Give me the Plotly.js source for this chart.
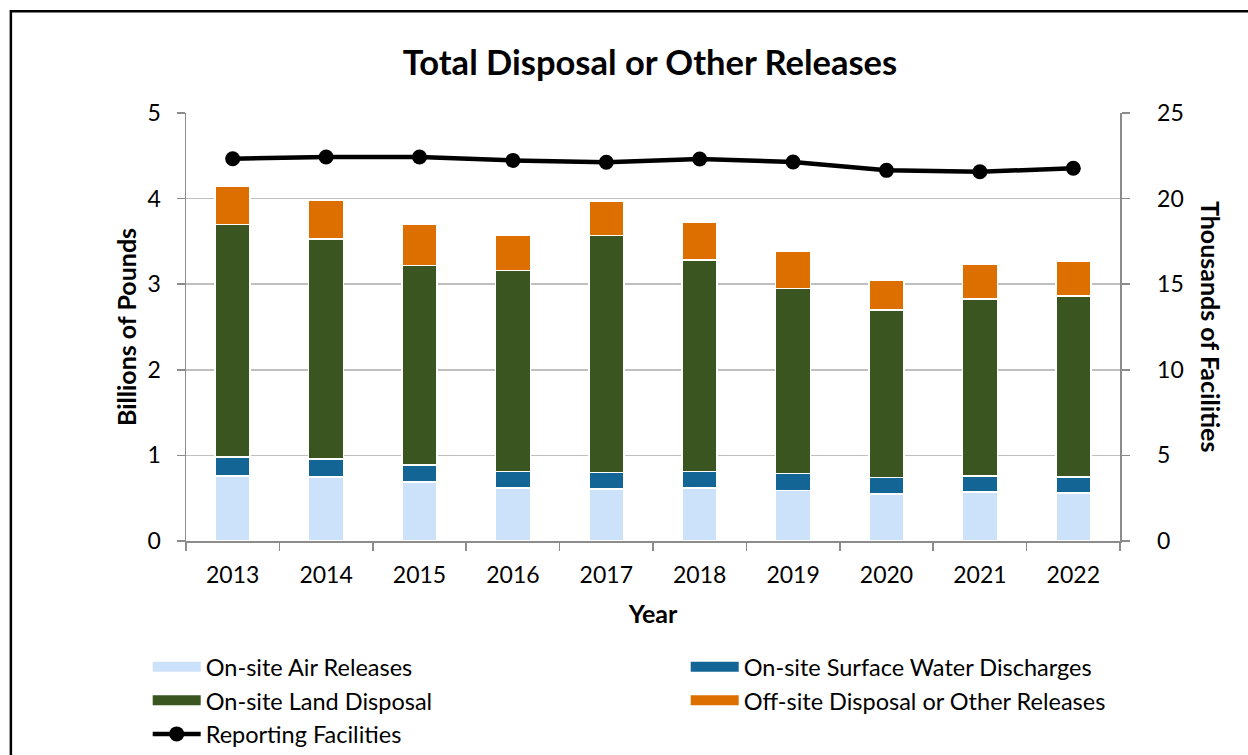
<!DOCTYPE html>
<html>
<head>
<meta charset="utf-8">
<script src="https://cdn.plot.ly/plotly-3.0.1.min.js"></script>
<style>
  html, body { margin: 0; padding: 0; background: #fff; }
  #chart { width: 1248px; height: 755px; }
</style>
</head>
<body>
<div id="chart"></div>
<script>
const years = ["2013","2014","2015","2016","2017","2018","2019","2020","2021","2022"];
const airReleases   = [0.76, 0.75, 0.69, 0.62, 0.61, 0.62, 0.59, 0.55, 0.57, 0.56];
const waterDischarges = [0.22, 0.21, 0.20, 0.19, 0.19, 0.19, 0.20, 0.19, 0.19, 0.19];
const landDisposal  = [2.72, 2.57, 2.33, 2.35, 2.77, 2.47, 2.16, 1.96, 2.07, 2.11];
const offsiteDisposal = [0.44, 0.45, 0.48, 0.41, 0.40, 0.44, 0.43, 0.35, 0.40, 0.41];
const reportingFacilities = [22.33, 22.43, 22.43, 22.23, 22.12, 22.31, 22.14, 21.65, 21.57, 21.77];

const FONT = "Lato, 'Open Sans', sans-serif";
const barColors = {
  air: "#cce2fa",
  water: "#136595",
  land: "#3a5520",
  off: "#dd6f00"
};

function barTrace(name, vals, color) {
  return {
    type: "bar", name: name, x: years, y: vals,
    width: 0.375,
    marker: { color: color, line: { color: "#ffffff", width: 1.5 } },
    legendgroup: name, showlegend: false,
    hoverinfo: "x+y+name"
  };
}
function legendProxy(name, color) {
  return {
    type: "scatter", mode: "lines", name: name, x: [null], y: [null],
    line: { color: color, width: 10 }, legendgroup: name, showlegend: true,
    hoverinfo: "skip"
  };
}

const data = [
  barTrace("On-site Air Releases", airReleases, barColors.air),
  barTrace("On-site Surface Water Discharges", waterDischarges, barColors.water),
  barTrace("On-site Land Disposal", landDisposal, barColors.land),
  barTrace("Off-site Disposal or Other Releases", offsiteDisposal, barColors.off),
  legendProxy("On-site Air Releases", barColors.air),
  legendProxy("On-site Surface Water Discharges", barColors.water),
  legendProxy("On-site Land Disposal", barColors.land),
  legendProxy("Off-site Disposal or Other Releases", barColors.off),
  {
    type: "scatter", mode: "lines+markers", name: "Reporting Facilities",
    x: years, y: reportingFacilities, yaxis: "y2",
    line: { color: "#000000", width: 4.5 },
    marker: { color: "#000000", size: 15 },
    showlegend: true
  }
];

const axisLine = "#8c8c8c";
const layout = {
  width: 1248, height: 755,
  margin: { l: 186, r: 128, t: 113, b: 214, autoexpand: false },
  paper_bgcolor: "#ffffff", plot_bgcolor: "#ffffff",
  font: { family: FONT, color: "#000000", size: 23 },
  barmode: "stack",
  title: {
    text: "<b>Total Disposal or Other Releases</b>",
    font: { family: FONT, size: 34.5, color: "#000000" },
    x: 0.5208, xanchor: "center", y: 0.917, yanchor: "middle"
  },
  xaxis: {
    type: "category",
    range: [-0.5, 9.5],
    showline: true, linecolor: axisLine, linewidth: 1.5,
    ticks: "outside", tickson: "boundaries", ticklen: 8, tickcolor: axisLine, tickwidth: 1.5,
    ticklabelstandoff: 13,
    tickfont: { family: FONT, size: 23, color: "#000" },
    showgrid: false,
    title: { text: "<b>Year</b>", font: { family: FONT, size: 25, color: "#000" }, standoff: 18 }
  },
  yaxis: {
    range: [0, 5], dtick: 1, tick0: 0,
    showline: true, linecolor: axisLine, linewidth: 1.5,
    ticks: "outside", ticklen: 8, tickcolor: axisLine, tickwidth: 1.5,
    ticklabelstandoff: 11,
    showgrid: true, gridcolor: "#bfbfbf", gridwidth: 1.5,
    zeroline: false,
    tickfont: { family: FONT, size: 23, color: "#000" },
    title: { text: "<b>Billions of Pounds</b>", font: { family: FONT, size: 25, color: "#000" }, standoff: 4 }
  },
  yaxis2: {
    overlaying: "y", side: "right",
    range: [0, 25], dtick: 5, tick0: 0,
    showline: true, linecolor: axisLine, linewidth: 1.5,
    ticks: "outside", ticklen: 8, tickcolor: axisLine, tickwidth: 1.5,
    tickprefix: "\u2002\u2002",
    showgrid: false, zeroline: false,
    tickfont: { family: FONT, size: 23, color: "#000" }
  },
  annotations: [{
    text: "<b>Thousands of Facilities</b>", textangle: 90,
    xref: "paper", yref: "paper", x: 1.0975, y: 0.5,
    xanchor: "center", yanchor: "middle", showarrow: false,
    font: { family: FONT, size: 25, color: "#000" }
  }],
  legend: {
    orientation: "h",
    x: -0.041, xanchor: "left", y: -0.243, yanchor: "top",
    entrywidth: 475, entrywidthmode: "pixels",
    itemwidth: 48,
    font: { family: FONT, size: 23.5, color: "#000" },
    bgcolor: "rgba(0,0,0,0)",
    traceorder: "normal"
  },
  shapes: [{
    type: "path", xref: "paper", yref: "paper",
    path: "M -0.1875,-0.6 L -0.1875,1.238 L 1.2,1.238",
    line: { color: "#000000", width: 2.5 }
  }],
  showlegend: true
};

Plotly.newPlot("chart", data, layout, { displayModeBar: false, staticPlot: true });
</script>
</body>
</html>
